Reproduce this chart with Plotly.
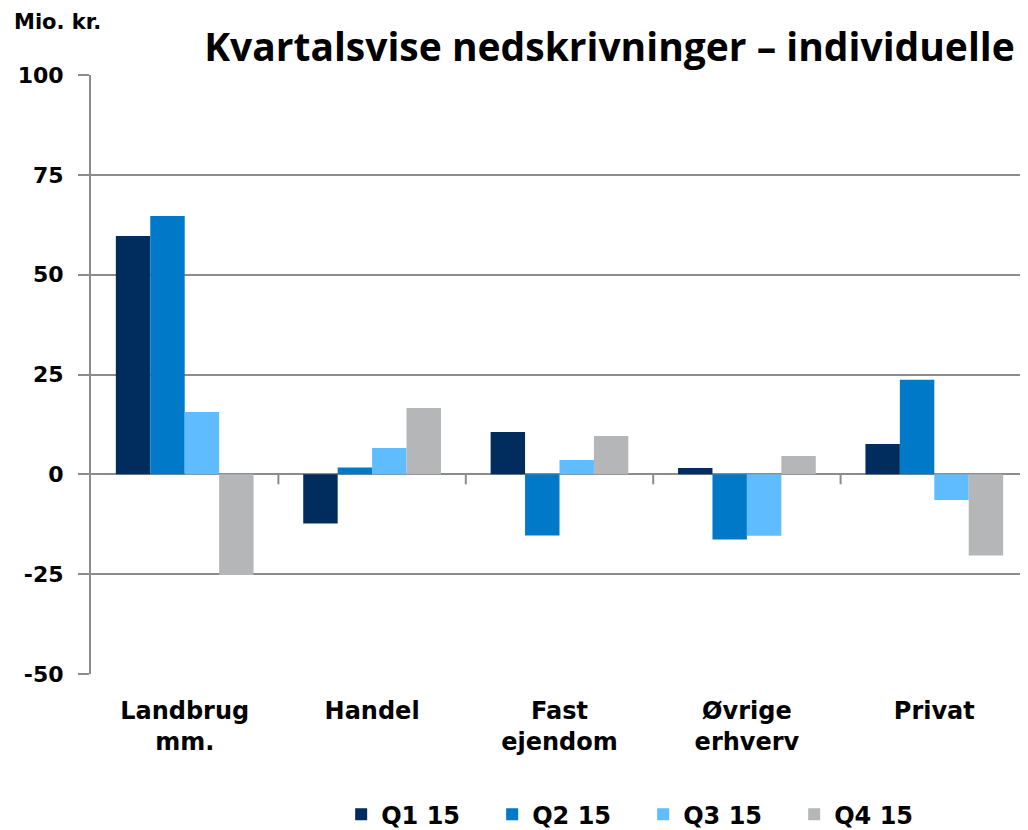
import plotly.graph_objects as go

categories = ["Landbrug<br>mm.", "Handel", "Fast<br>ejendom", "Øvrige<br>erhverv", "Privat"]
series_names = ["Q1 15", "Q2 15", "Q3 15", "Q4 15"]
q1 = [59.7, -12.3, 10.6, 1.6, 7.6]
q2 = [64.7, 1.7, -15.3, -16.3, 23.7]
q3 = [15.6, 6.6, 3.6, -15.4, -6.4]
q4 = [-25.2, 16.6, 9.6, 4.6, -20.3]
colors = ["#002D5E", "#0079C8", "#5EBCFF", "#B5B6B8"]
yticks = [-50, -25, 0, 25, 50, 75, 100]
yticklabels = ["-50", "-25", "0", "25", "50", "75", "100"]

LBL = "DejaVu Sans"

fig = go.Figure()
for name, vals, c in zip(series_names, [q1, q2, q3, q4], colors):
    fig.add_trace(go.Bar(x=categories, y=vals, name=name, marker=dict(color=c, line=dict(width=0))))

grid = "#8C8C8C"
shapes = []
for i in range(len(categories) - 1):
    shapes.append(dict(type="line", xref="x", yref="y", x0=i + 0.5, x1=i + 0.5, y0=0, y1=-2.5,
                       line=dict(color=grid, width=2)))

fig.update_layout(
    width=1020, height=822,
    margin=dict(l=83, r=0, t=67, b=156, autoexpand=False),
    plot_bgcolor="white", paper_bgcolor="white",
    barmode="group", bargap=0.265, bargroupgap=0,
    font=dict(family=LBL, color="black", weight="bold"),
    title=dict(text="Kvartalsvise nedskrivninger – individuelle",
               font=dict(family="Open Sans", size=39, color="black", weight="bold"),
               x=0.987, xanchor="right", xref="container",
               y=0.9526, yanchor="middle", yref="container"),
    xaxis=dict(range=[-0.5, 4.5], showgrid=False, showline=False, ticks="",
               tickfont=dict(family=LBL, size=24, color="black", weight="bold"),
               ticklabelstandoff=20),
    yaxis=dict(range=[-50, 100], tickvals=yticks, ticktext=yticklabels,
               showgrid=True, gridcolor=grid, gridwidth=2,
               zeroline=True, zerolinecolor=grid, zerolinewidth=2,
               showline=True, linecolor=grid, linewidth=2,
               ticks="outside", ticklen=11, tickcolor=grid, tickwidth=2,
               tickfont=dict(family=LBL, size=22, color="black", weight="bold"),
               ticklabelstandoff=10),
    legend=dict(orientation="h", x=0.267, xanchor="left", y=-0.235, yanchor="middle",
                font=dict(family=LBL, size=24, color="black", weight="bold"),
                itemwidth=30, entrywidth=106, tracegroupgap=0),
    shapes=shapes,
    annotations=[dict(text="Mio. kr.", xref="paper", yref="paper", x=-0.0843, y=1.0885,
                      xanchor="left", yanchor="middle", showarrow=False,
                      font=dict(family=LBL, size=21, color="black", weight="bold"))],
)

fig.write_html("out.html")
